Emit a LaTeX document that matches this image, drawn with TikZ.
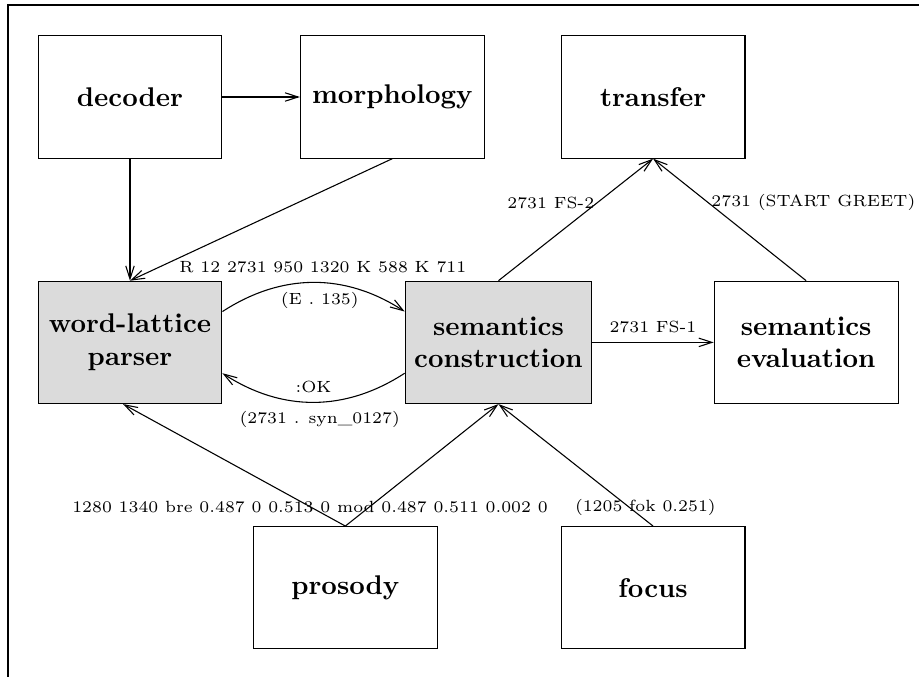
\documentclass[tikz,border=0pt]{standalone}
\usepackage{tikz}
\usetikzlibrary{arrows.meta,calc}

\begin{document}
\begin{tikzpicture}[>={Straight Barb[length=1.7mm,width=1.1mm]},
	box/.style={draw, rectangle, minimum width=2.39cm, minimum height=1.59cm, font=\bfseries, align=center},
	shaded/.style={box, fill=black!14},
	lbl/.style={font=\fontsize{6}{7}\selectfont}]
	\useasboundingbox (0cm,0cm) rectangle (11.947cm,8.801cm);
	\draw [line width=0.8pt] (0.104cm,0cm) |- (11.947cm,8.735cm);
	\node [box] (decoder) at (1.69cm,7.54cm) {decoder};
	\node [box] (morphology) at (5.10cm,7.54cm) {morphology};
	\node [box] (transfer) at (8.49cm,7.54cm) {transfer};
	\node [shaded] (parser) at (1.69cm,4.35cm) {word-lattice\\parser};
	\node [shaded] (construction) at (6.48cm,4.35cm) {semantics\\construction};
	\node [box] (evaluation) at (10.48cm,4.35cm) {semantics\\evaluation};
	\node [box] (prosody) at (4.49cm,1.16cm) {prosody};
	\node [box] (focus) at (8.49cm,1.16cm) {focus};
	\node [lbl] (prosodyout) at (4.03cm,2.21cm) {1280 1340 bre 0.487 0 0.513 0 mod 0.487 0.511 0.002 0};
	\node [lbl] (focusout) at (8.39cm,2.21cm) {(1205 fok 0.251)};
	\path [->] (decoder) edge (morphology);
	\path [->] (decoder) edge (parser);
	\path [->] (morphology.south) edge (parser.north);
	\path [->] ($(parser.north east)!0.25!(parser.south east)$) edge [bend left=33]
		node [lbl, above, xshift=0.12cm] {R 12 2731 950 1320 K 588 K 711}
		node [lbl, below, xshift=0.08cm] {(E . 135)}
		($(construction.north west)!0.25!(construction.south west)$);
	\path [->] ($(construction.north west)!0.75!(construction.south west)$) edge [bend left=33]
		node [lbl, above] {:OK}
		node [lbl, below, xshift=0.08cm] {(2731 . syn\_0127)}
		($(parser.north east)!0.75!(parser.south east)$);
	\path [->] (construction) edge node [lbl, above] {2731 FS-1} (evaluation);
	\path [->] (construction.north) edge node [lbl, pos=0.64, left, inner sep=1pt] {2731 FS-2} (transfer.south);
	\path [->] (evaluation.north) edge node [lbl, pos=0.64, right, inner sep=1pt] {2731 (START GREET)} (transfer.south);
	\path [->] (prosody.north) edge ([xshift=-0.09cm]parser.south);
	\path [->] (prosody.north) edge (construction.south);
	\path [->] (focus.north) edge (construction.south);
\end{tikzpicture}
\end{document}
